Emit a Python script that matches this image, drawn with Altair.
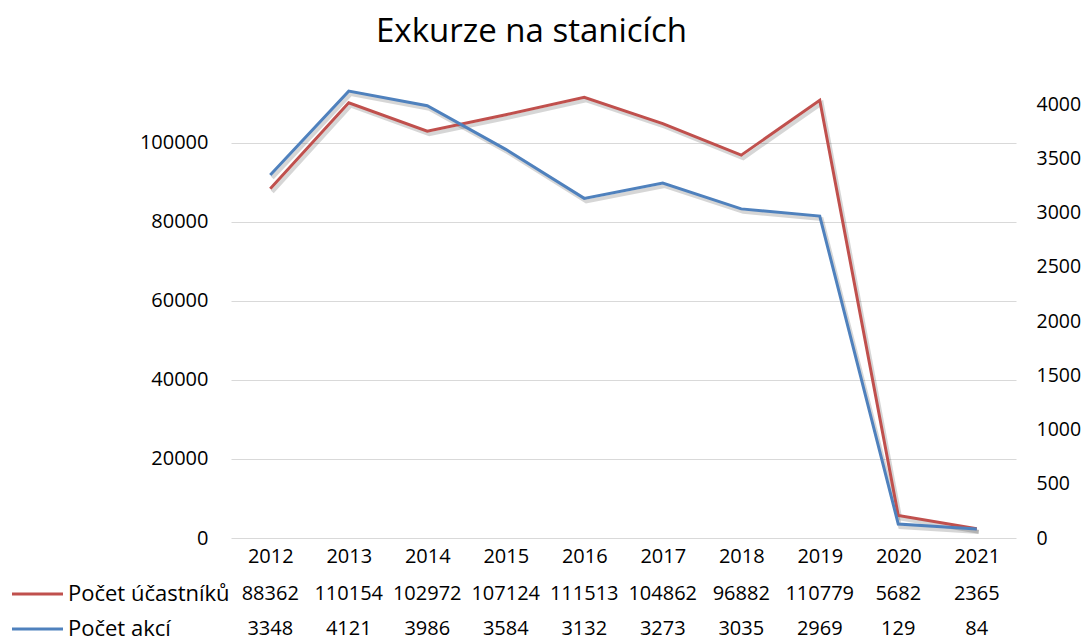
import altair as alt
import pandas as pd

years = ["2012", "2013", "2014", "2015", "2016", "2017", "2018", "2019", "2020", "2021"]
ucastniku = [88362, 110154, 102972, 107124, 111513, 104862, 96882, 110779, 5682, 2365]
akci = [3348, 4121, 3986, 3584, 3132, 3273, 3035, 2969, 129, 84]
series_names = ["Počet účastníků", "Počet akcí"]
left_ticks = [0, 20000, 40000, 60000, 80000, 100000]
right_ticks = [0, 500, 1000, 1500, 2000, 2500, 3000, 3500, 4000]

df = pd.DataFrame({"year": years, "ucastniku": ucastniku, "akci": akci})

FONT = "Open Sans"
RED = "#c0504d"
BLUE = "#4f81bd"
W, H = 785, 488
FS = 20
ROW_Y = [544, 579]

xenc = alt.X(
    "year:O",
    sort=years,
    scale=alt.Scale(type="point", padding=0.5),
    axis=alt.Axis(
        title=None, orient="bottom", labelFontSize=FS, labelColor="#000000",
        ticks=False, domain=False, labelPadding=8, labelAngle=0, labelFont=FONT,
    ),
)

base = alt.Chart(df).encode(x=xenc)

left_scale = alt.Scale(domain=[0, 123500], nice=False, zero=True)
right_scale = alt.Scale(domain=[0, 4500], nice=False, zero=True)

red_shadow = base.mark_line(color="#000000", opacity=0.16, strokeWidth=4, xOffset=2, yOffset=3).encode(
    y=alt.Y("ucastniku:Q", scale=left_scale, axis=None)
)
red_line = base.mark_line(color=RED, strokeWidth=3).encode(
    y=alt.Y(
        "ucastniku:Q", scale=left_scale,
        axis=alt.Axis(
            title=None, orient="left", values=left_ticks, format="d", grid=True,
            gridColor="#d9d9d9", gridWidth=1, ticks=False, domain=False,
            labelFontSize=FS, labelPadding=23, labelColor="#000000", labelFont=FONT,
        ),
    )
)
blue_shadow = base.mark_line(color="#000000", opacity=0.16, strokeWidth=4, xOffset=2, yOffset=3).encode(
    y=alt.Y("akci:Q", scale=right_scale, axis=None)
)
blue_line = base.mark_line(color=BLUE, strokeWidth=3).encode(
    y=alt.Y(
        "akci:Q", scale=right_scale,
        axis=alt.Axis(
            title=None, orient="right", values=right_ticks, format="d", grid=False,
            ticks=False, domain=False, labelFontSize=19.5, labelPadding=20,
            labelColor="#000000", labelFont=FONT,
        ),
    )
)

row_red = base.mark_text(fontSize=FS, font=FONT, color="#000000", baseline="middle").encode(
    y=alt.value(ROW_Y[0]), text=alt.Text("ucastniku:Q", format="d")
)
row_blue = base.mark_text(fontSize=FS, font=FONT, color="#000000", baseline="middle").encode(
    y=alt.value(ROW_Y[1]), text=alt.Text("akci:Q", format="d")
)

leg_df = pd.DataFrame({"name": series_names, "ypos": ROW_Y, "color": [RED, BLUE]})
leg_base = alt.Chart(leg_df)
leg_lines = leg_base.mark_rule(strokeWidth=3).encode(
    x=alt.value(-219), x2=alt.value(-168),
    y=alt.Y("ypos:Q", scale=None),
    color=alt.Color("color:N", scale=None, legend=None),
)
leg_text = leg_base.mark_text(fontSize=22, font=FONT, color="#000000", align="left", baseline="middle").encode(
    x=alt.value(-163),
    y=alt.Y("ypos:Q", scale=None),
    text="name:N",
)

chart = (
    alt.layer(red_shadow, blue_shadow, red_line, blue_line, row_red, row_blue, leg_lines, leg_text)
    .resolve_scale(y="independent")
    .properties(
        width=W, height=H,
        title=alt.TitleParams(
            "Exkurze na stanicích", fontSize=33, font=FONT, fontWeight="normal",
            color="#000000", anchor="middle", dx=-92, offset=1,
        ),
        padding={"left": 223, "top": 42, "right": 66, "bottom": 103},
        autosize=alt.AutoSizeParams(type="none"),
    )
    .configure(background="#ffffff")
    .configure_view(strokeWidth=0)
)

chart.save("out.html", embed_options={"renderer": "svg", "actions": False})
